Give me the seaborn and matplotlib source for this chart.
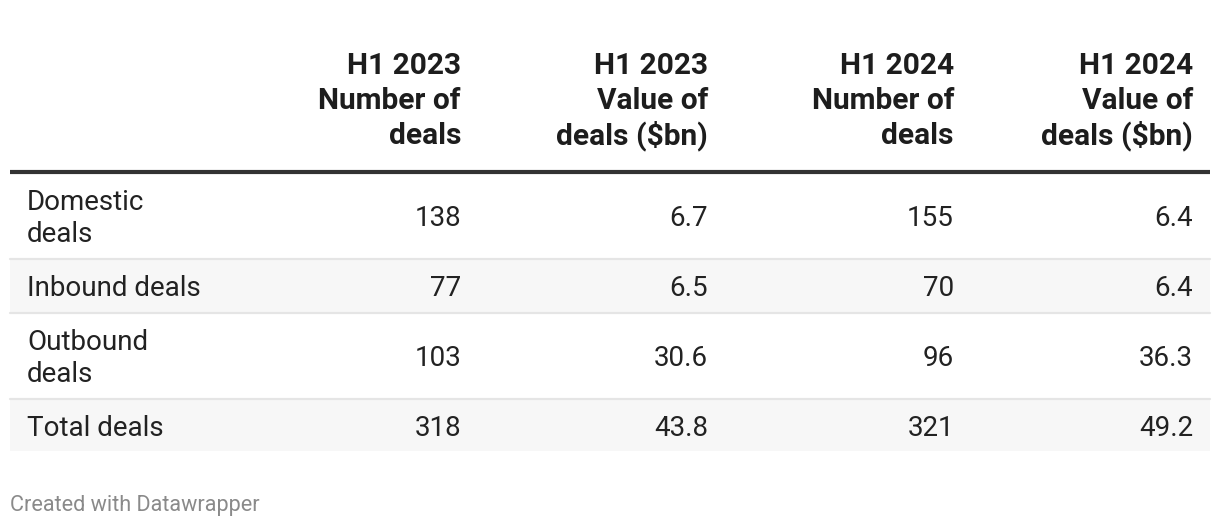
import matplotlib
matplotlib.use('Agg')
import matplotlib.pyplot as plt
import seaborn as sns

# Table data
row_labels = ['Domestic\ndeals', 'Inbound deals', 'Outbound\ndeals', 'Total deals']
col_labels = ['H1 2023\nNumber of\ndeals', 'H1 2023\nValue of\ndeals ($bn)',
              'H1 2024\nNumber of\ndeals', 'H1 2024\nValue of\ndeals ($bn)']
deals_2023 = [138, 77, 103, 318]
value_2023 = [6.7, 6.5, 30.6, 43.8]
deals_2024 = [155, 70, 96, 321]
value_2024 = [6.4, 6.4, 36.3, 49.2]

sns.set_theme(style='white')
plt.rcParams['font.family'] = ['Roboto', 'DejaVu Sans']

fig = plt.figure(figsize=(12.2, 5.28), dpi=100)
ax = fig.add_axes([0, 0, 1, 1])
ax.set_xlim(0, 1220)
ax.set_ylim(528, 0)
ax.axis('off')

# layout (pixels)
left, right = 10, 1210
col_x = [461, 708, 954, 1193]
row_tops = [174, 260, 314, 400]
row_bottoms = [258, 312, 398, 451]
header_base = [73.5, 109, 144.3]

# header, one line at a time so baselines line up across columns
for x, lab in zip(col_x, col_labels):
    for k, line in enumerate(lab.split('\n')):
        ax.text(x, header_base[k], line, ha='right', va='baseline', fontsize=21.5,
                fontweight='bold', color='#1d1d1d')
ax.plot([left, right], [172, 172], color='#333333', lw=3, solid_capstyle='butt')

columns = [deals_2023, [f'{v:.1f}' for v in value_2023], deals_2024, [f'{v:.1f}' for v in value_2024]]
for i, lab in enumerate(row_labels):
    top, bot = row_tops[i], row_bottoms[i]
    base = (top + bot) / 2 + 10.3
    if i % 2 == 1:
        ax.fill_between([left, right], top, bot, color='#f7f7f7', lw=0)
    if i < len(row_labels) - 1:
        ax.plot([left, right], [bot + 1, bot + 1], color='#e5e5e5', lw=1.6)
    lines = lab.split('\n')
    first = base - 15.9 * (len(lines) - 1)
    for k, line in enumerate(lines):
        ax.text(27, first + 31.7 * k, line, ha='left', va='baseline', fontsize=20, color='#222222')
    for x, col in zip(col_x, columns):
        ax.text(x, base, str(col[i]), ha='right', va='baseline', fontsize=20, color='#222222')

ax.text(10, 511.5, 'Created with Datawrapper', ha='left', va='baseline', fontsize=15.6, color='#8a8a8a')

fig.savefig('out.png', dpi=100)
